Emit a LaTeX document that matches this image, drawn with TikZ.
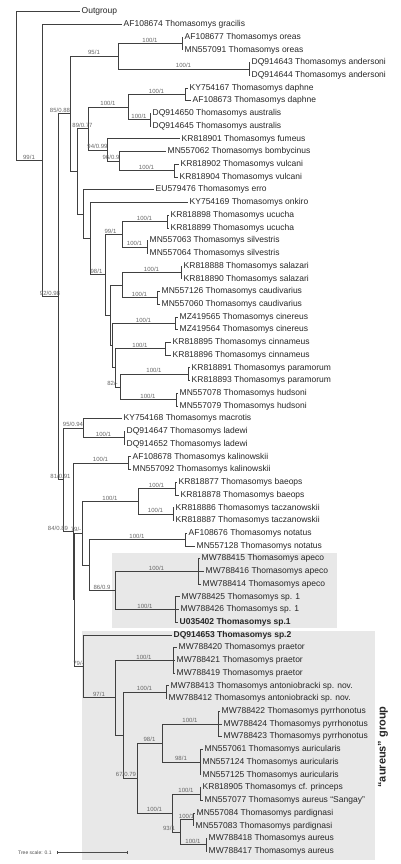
\documentclass[tikz,border=0pt]{standalone}
\usepackage{fontspec}
\setmainfont{Liberation Sans}
\usetikzlibrary{arrows.meta,positioning}

\begin{document}
\begin{tikzpicture}[x=1pt, y=-12.72pt,
  leaf/.style={anchor=west, inner sep=1.5pt, text=black!85, font=\fontsize{8.5}{9}\selectfont},
  branch/.style={draw=black!75, line width=0.9pt},
  support/.style={above, inner sep=0.8pt, text=black!60, font=\fontsize{6}{6}\selectfont},
  clade/.style={fill=black!9}]
\useasboundingbox (0pt,-1pt) rectangle (400pt,-865pt);

% shaded clades
\fill[clade] (112,43.55) rectangle (337,49.45);
\fill[clade] (82,49.69) rectangle (375,67.69);

% tips: row / tip x / label
\foreach \r/\tx/\txt in {
  1/80/Outgroup,
  2/122/AF108674 Thomasomys gracilis,
  3/183/AF108677 Thomasomys oreas,
  4/183/MN557091 Thomasomys oreas,
  5/250/DQ914643 Thomasomys andersoni,
  6/250/DQ914644 Thomasomys andersoni,
  7/188/KY754167 Thomasomys daphne,
  8/191/AF108673 Thomasomys daphne,
  9/151/DQ914650 Thomasomys australis,
  10/151/DQ914645 Thomasomys australis,
  11/180/KR818901 Thomasomys fumeus,
  12/166/MN557062 Thomasomys bombycinus,
  13/179/KR818902 Thomasomys vulcani,
  14/178/KR818904 Thomasomys vulcani,
  15/154/EU579476 Thomasomys erro,
  16/188/KY754169 Thomasomys onkiro,
  17/169/KR818898 Thomasomys ucucha,
  18/169/KR818899 Thomasomys ucucha,
  19/148/MN557063 Thomasomys silvestris,
  20/148/MN557064 Thomasomys silvestris,
  21/182/KR818888 Thomasomys salazari,
  22/182/KR818890 Thomasomys salazari,
  23/160/MN557126 Thomasomys caudivarius,
  24/160/MN557060 Thomasomys caudivarius,
  25/178/MZ419565 Thomasomys cinereus,
  26/178/MZ419564 Thomasomys cinereus,
  27/171/KR818895 Thomasomys cinnameus,
  28/171/KR818896 Thomasomys cinnameus,
  29/190/KR818891 Thomasomys paramorum,
  30/190/KR818893 Thomasomys paramorum,
  31/178/MN557078 Thomasomys hudsoni,
  32/178/MN557079 Thomasomys hudsoni,
  33/122/KY754168 Thomasomys macrotis,
  34/125/DQ914647 Thomasomys ladewi,
  35/125/DQ914652 Thomasomys ladewi,
  36/131/AF108678 Thomasomys kalinowskii,
  37/131/MN557092 Thomasomys kalinowskii,
  38/177/KR818877 Thomasomys baeops,
  39/179/KR818878 Thomasomys baeops,
  40/174/KR818886 Thomasomys taczanowskii,
  41/174/KR818887 Thomasomys taczanowskii,
  42/187/AF108676 Thomasomys notatus,
  43/195/MN557128 Thomasomys notatus,
  44/200/MW788415 Thomasomys apeco,
  45/204/MW788416 Thomasomys apeco,
  46/201/MW788414 Thomasomys apeco,
  47/180/MW788425 Thomasomys sp. 1,
  48/179/MW788426 Thomasomys sp. 1,
  49/178/\textbf{U035402 Thomasomys sp.1},
  50/172/\textbf{DQ914653 Thomasomys sp.2},
  51/177/MW788420 Thomasomys praetor,
  52/175/MW788421 Thomasomys praetor,
  53/175/MW788419 Thomasomys praetor,
  54/169/MW788413 Thomasomys antoniobracki sp. nov.,
  55/167/MW788412 Thomasomys antoniobracki sp. nov.,
  56/220/MW788422 Thomasomys pyrrhonotus,
  57/222/MW788424 Thomasomys pyrrhonotus,
  58/222/MW788423 Thomasomys pyrrhonotus,
  59/203/MN557061 Thomasomys auricularis,
  60/201/MN557124 Thomasomys auricularis,
  61/201/MN557125 Thomasomys auricularis,
  62/201/KR818905 Thomasomys cf. princeps,
  63/203/MN557077 Thomasomys aureus ``Sangay'',
  64/195/MN557084 Thomasomys pardignasi,
  65/194/MN557083 Thomasomys pardignasi,
  66/207/MW788418 Thomasomys aureus,
  67/207/MW788417 Thomasomys aureus} {
  \node[leaf] (l\r) at (\tx,\r) {\txt};
}

% internal nodes
\coordinate (R) at (16,6.855);
\coordinate (A) at (42,12.71);
\coordinate (B) at (58,23.42);
\coordinate (C) at (70,9.027);
\coordinate (OA) at (118,4.5);
\coordinate (oreasN) at (182,3.5);
\coordinate (anderN) at (249,5.5);
\coordinate (D1) at (77,13.555);
\coordinate (D2) at (88,10.1875);
\coordinate (DAU) at (128,8.5);
\coordinate (daphneN) at (185,7.5);
\coordinate (australisN) at (150,9.5);
\coordinate (F1) at (107,11.875);
\coordinate (F2) at (119,12.75);
\coordinate (vulcaniN) at (174,13.5);
\coordinate (D3) at (83,16.922);
\coordinate (D4) at (90,18.844);
\coordinate (T) at (105,21.6875);
\coordinate (U) at (122,18.5);
\coordinate (ucuchaN) at (167,17.5);
\coordinate (silvN) at (147,19.5);
\coordinate (V) at (110,24.875);
\coordinate (S) at (122,22.5);
\coordinate (salazariN) at (181,21.5);
\coordinate (caudN) at (157,23.5);
\coordinate (W) at (112,27.25);
\coordinate (cinereusN) at (175,25.5);
\coordinate (X) at (115,29);
\coordinate (cinnameusN) at (165,27.5);
\coordinate (Y) at (120,30.5);
\coordinate (paramorumN) at (188,29.5);
\coordinate (hudsoniN) at (176,31.5);
\coordinate (E) at (63,37.81);
\coordinate (M) at (83,33.75);
\coordinate (ladewiN) at (124,34.5);
\coordinate (K) at (73,41.867);
\coordinate (kalN) at (128,36.5);
\coordinate (N) at (74,47.234);
\coordinate (Q) at (82,42);
\coordinate (BT) at (138,39.5);
\coordinate (baeopsN) at (175,38.5);
\coordinate (taczN) at (173,40.5);
\coordinate (Z) at (89,44.5);
\coordinate (notatusN) at (185,42.5);
\coordinate (P) at (115,46.5);
\coordinate (apecoN) at (198,45);
\coordinate (sp1N) at (175,48);
\coordinate (G) at (83,52.469);
\coordinate (H) at (115,54.9375);
\coordinate (praetorN) at (173,52);
\coordinate (I) at (123,57.875);
\coordinate (antN) at (166,54.5);
\coordinate (J) at (137,61.25);
\coordinate (PA) at (162,58.5);
\coordinate (pyrrN) at (218,57);
\coordinate (auricN) at (200,60);
\coordinate (L) at (172,64);
\coordinate (princN) at (200,62.5);
\coordinate (PG) at (180,65.5);
\coordinate (pardN) at (193,64.5);
\coordinate (aurN) at (206,66.5);

% terminal branches
\foreach \p/\c in {R/l1, A/l2,
  oreasN/l3, oreasN/l4, anderN/l5, anderN/l6,
  daphneN/l7, daphneN/l8, australisN/l9, australisN/l10,
  F1/l11, F2/l12, vulcaniN/l13, vulcaniN/l14,
  D3/l15, D4/l16,
  ucuchaN/l17, ucuchaN/l18, silvN/l19, silvN/l20,
  salazariN/l21, salazariN/l22, caudN/l23, caudN/l24,
  cinereusN/l25, cinereusN/l26, cinnameusN/l27, cinnameusN/l28,
  paramorumN/l29, paramorumN/l30, hudsoniN/l31, hudsoniN/l32,
  M/l33, ladewiN/l34, ladewiN/l35, kalN/l36, kalN/l37,
  baeopsN/l38, baeopsN/l39, taczN/l40, taczN/l41,
  notatusN/l42, notatusN/l43,
  apecoN/l44, apecoN/l45, apecoN/l46, sp1N/l47, sp1N/l48, sp1N/l49,
  G/l50, praetorN/l51, praetorN/l52, praetorN/l53,
  antN/l54, antN/l55, pyrrN/l56, pyrrN/l57, pyrrN/l58,
  auricN/l59, auricN/l60, auricN/l61, princN/l62, princN/l63,
  pardN/l64, pardN/l65, aurN/l66, aurN/l67} {
  \draw[branch] (\p) |- (\c);
}

% inner branches: parent / child / support / label shift
\foreach \p/\c/\s/\dx in {
  R/A/{99/1}/0, A/B/{92/0.98}/0,
  B/C/{85/0.88}/-4, B/E/{81/0.91}/0,
  C/OA/{95/1}/0, C/D1/{}/0,
  OA/oreasN/{100/1}/0, OA/anderN/{100/1}/0,
  D1/D2/{89/0.77}/0, D1/D3/{}/0,
  D2/DAU/{100/1}/0, D2/F1/{94/0.99}/0,
  DAU/daphneN/{100/1}/0, DAU/australisN/{100/1}/0,
  F1/F2/{96/0.9}/-2, F2/vulcaniN/{100/1}/0,
  D3/D4/{}/0, D4/T/{98/1}/-1,
  T/U/{99/1}/-3, T/V/{}/0,
  U/ucuchaN/{100/1}/0, U/silvN/{100/1}/0,
  V/S/{}/0, V/W/{}/0,
  S/salazariN/{100/1}/0, S/caudN/{100/1}/0,
  W/cinereusN/{100/1}/0, W/X/{}/0,
  X/cinnameusN/{100/1}/0, X/Y/{82/-}/-5,
  Y/paramorumN/{100/1}/0, Y/hudsoniN/{100/1}/0,
  E/M/{95/0.94}/0, E/K/{84/0.89}/-10,
  M/ladewiN/{100/1}/0,
  K/kalN/{100/1}/0, K/N/{}/0,
  N/Q/{79/-}/-2, N/G/{79/-}/0,
  Q/BT/{100/1}/0, Q/Z/{}/0,
  BT/baeopsN/{100/1}/0, BT/taczN/{100/1}/0,
  Z/notatusN/{100/1}/0, Z/P/{86/0.9}/0,
  P/apecoN/{100/1}/0, P/sp1N/{100/1}/0,
  G/H/{97/1}/0,
  H/praetorN/{100/1}/0, H/I/{}/0,
  I/antN/{100/1}/0, I/J/{67/0.79}/-4,
  J/PA/{98/1}/0, J/L/{100/1}/0,
  PA/pyrrN/{100/1}/0, PA/auricN/{98/1}/0,
  L/princN/{100/1}/0, L/PG/{93/1}/-7,
  PG/pardN/{100/1}/0, PG/aurN/{100/1}/0} {
  \draw[branch] (\p) |- (\c) node[support, pos=0.75, xshift=\dx pt] {\s};
}

% group label
\node[rotate=90, text=black!85, font=\bfseries\fontsize{11}{11}\selectfont] (grp) at (383,58.8) {``aureus'' group};

% scale bar
\node[anchor=west, inner sep=0pt, text=black!70, font=\fontsize{5}{5}\selectfont] (scl) at (18,67.08) {Tree scale: 0.1};
\coordinate (s0) at (57,67.08);
\coordinate (s1) at (128,67.08);
\draw[black!70, line width=0.6pt, {Bar[width=3pt]}-{Bar[width=3pt]}] (s0) -- (s1);
\end{tikzpicture}
\end{document}
